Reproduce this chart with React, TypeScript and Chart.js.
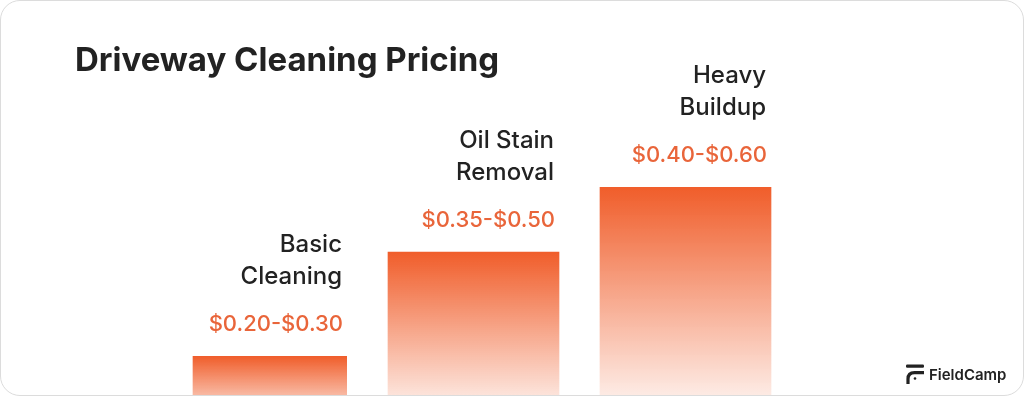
import React, { useEffect, useRef } from "react";
import { Chart, registerables } from "chart.js";

Chart.register(...registerables);

// ---- data ----
const categories: string[][] = [
  ["Basic", "Cleaning"],
  ["Oil Stain", "Removal"],
  ["Heavy", "Buildup"],
];
const priceLabels: string[] = ["$0.20-$0.30", "$0.35-$0.50", "$0.40-$0.60"];
// relative bar heights (tallest = 100)
const barValues: number[] = [29, 72.7, 100];

const BAR_RGB = "240, 93, 42";
const PRICE_COLOR = "#E9653A";
const TEXT_COLOR = "#222222";
const FONT = "Inter, 'Noto Sans', sans-serif";

export default function App() {
  const ref = useRef<HTMLCanvasElement>(null);

  useEffect(() => {
    document.body.style.margin = "0";
    const canvas = ref.current;
    if (!canvas) return;

    const labelPlugin = {
      id: "barLabels",
      afterDatasetsDraw(chart: any) {
        const c = chart.ctx;
        const meta = chart.getDatasetMeta(0);
        c.save();
        c.textAlign = "right";
        c.textBaseline = "alphabetic";
        meta.data.forEach((el: any, i: number) => {
          const { x, y, width } = el.getProps(["x", "y", "width"], true);
          const right = x + width / 2 - 4;
          c.fillStyle = PRICE_COLOR;
          c.font = `500 22px ${FONT}`;
          c.fillText(priceLabels[i], right, y - 25);
          c.fillStyle = TEXT_COLOR;
          c.font = `500 24px ${FONT}`;
          const lines = categories[i];
          lines.forEach((ln, j) => {
            c.fillText(ln, right - 1, y - 72 - (lines.length - 1 - j) * 32);
          });
        });
        c.restore();
      },
    };

    const chart = new Chart(canvas, {
      type: "bar",
      data: {
        labels: categories.map((c) => c.join(" ")),
        datasets: [
          {
            data: barValues,
            barThickness: 171,
            borderColor: "rgba(0,0,0,0)",
            borderWidth: (ctx: any) =>
              ctx.dataIndex === 0 ? { left: 17, right: 0, top: 0, bottom: 0 } : 0,
            backgroundColor: (ctx: any) => {
              const ch = ctx.chart;
              const ys = ch.scales && ch.scales.y;
              if (!ys || ctx.dataIndex === undefined || !ctx.parsed) return `rgb(${BAR_RGB})`;
              const top = ys.getPixelForValue(ctx.parsed.y);
              const bottom = ys.getPixelForValue(0);
              if (!isFinite(top) || !isFinite(bottom) || top === bottom) return `rgb(${BAR_RGB})`;
              const g = ch.ctx.createLinearGradient(0, top, 0, bottom);
              g.addColorStop(0, `rgba(${BAR_RGB},1)`);
              g.addColorStop(1, `rgba(${BAR_RGB},0)`);
              return g;
            },
          } as any,
        ],
      },
      options: {
        responsive: false,
        animation: false,
        devicePixelRatio: 1,
        layout: { padding: { left: 154.5, right: 231.5, top: 186, bottom: 6 } },
        scales: {
          x: { display: false, offset: true },
          y: { display: false, min: 0, max: 100 },
        },
        plugins: {
          legend: { display: false },
          tooltip: { enabled: false },
          title: { display: false },
        },
      },
      plugins: [labelPlugin],
    });

    return () => chart.destroy();
  }, []);

  return (
    <div
      style={{
        position: "relative",
        width: 1024,
        height: 396,
        boxSizing: "border-box",
        border: "1px solid #dcdcdc",
        borderRadius: 20,
        overflow: "hidden",
        background: "#ffffff",
      }}
    >
      <canvas
        ref={ref}
        width={1022}
        height={430}
        style={{ position: "absolute", left: 0, top: 0, width: 1022, height: 430, display: "block" }}
      />
      <div
        style={{
          position: "absolute",
          left: 74,
          top: 42,
          fontFamily: FONT,
          fontWeight: 700,
          fontSize: 33,
          lineHeight: "33px",
          color: TEXT_COLOR,
          whiteSpace: "nowrap",
        }}
      >
        Driveway Cleaning Pricing
      </div>
      <div
        style={{
          position: "absolute",
          left: 904,
          top: 363,
          display: "flex",
          alignItems: "center",
          gap: 5,
          fontFamily: FONT,
          fontWeight: 600,
          fontSize: 15,
          color: TEXT_COLOR,
          whiteSpace: "nowrap",
        }}
      >
        <svg width="19" height="20" viewBox="0 0 19 20">
          <rect x="1" y="0.5" width="18" height="3.2" rx="1.2" fill={TEXT_COLOR} />
          <path d="M 3 20 V 15 Q 3 8.6 9.5 8.6 H 19" stroke={TEXT_COLOR} strokeWidth="3.2" fill="none" />
          <circle cx="10" cy="14.5" r="1.3" fill={TEXT_COLOR} />
        </svg>
        <span>FieldCamp</span>
      </div>
    </div>
  );
}
